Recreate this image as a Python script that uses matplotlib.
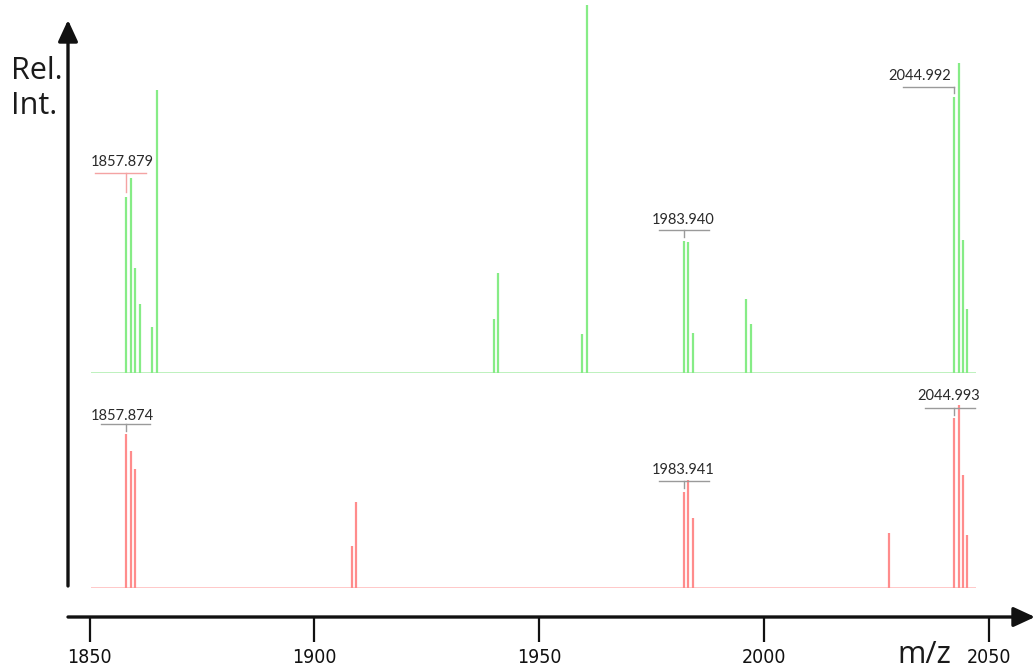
import matplotlib
matplotlib.use('Agg')
import matplotlib.pyplot as plt
from matplotlib.patches import ArrowStyle

# peaks of the upper (green) spectrum: m/z and relative intensity (%)
green_mz = [1857.88, 1858.88, 1859.88, 1860.88, 1863.80, 1864.88,
            1940.90, 1941.95, 1961.00, 1962.00,
            1983.94, 1984.94, 1985.94, 1998.00, 1999.00,
            2044.99, 2046.00, 2047.00, 2048.00]
green_int = [47.8, 53.0, 28.5, 18.8, 12.5, 76.9,
             14.7, 27.2, 10.6, 100.0,
             35.9, 35.6, 10.9, 20.1, 13.3,
             75.0, 84.2, 36.1, 17.4]

# peaks of the lower (red) spectrum
red_mz = [1857.87, 1858.87, 1859.87, 1908.90, 1909.90,
          1983.94, 1984.94, 1985.94, 2030.20,
          2044.99, 2046.00, 2047.00, 2048.00]
red_int = [84.0, 75.0, 64.9, 23.0, 46.8,
           52.5, 59.0, 38.3, 30.1,
           92.9, 100.0, 61.7, 29.0]

# labelled monoisotopic peaks
green_labels = ['1857.879', '1983.940', '2044.992']
red_labels = ['1857.874', '1983.941', '2044.993']

axis_ticks = [1850, 1900, 1950, 2000, 2050]

# label layout: bracket left/right (m/z), bracket height, tick bottom, text x, text y (%)
green_layout = [(1850.8, 1862.3, 54.3, 49.2, 1857.0, 57.4),
                (1978.3, 1989.6, 38.8, 37.0, 1983.7, 41.6),
                (2033.5, 2045.0, 77.8, 76.2, 2037.3, 80.6)]
green_bracket_col = ['#f4a3a3', '#9a9a9a', '#9a9a9a']
red_layout = [(1852.2, 1863.3, 89.5, 85.8, 1857.0, 94.2),
              (1978.3, 1989.6, 58.3, 54.5, 1983.7, 64.6),
              (2038.4, 2049.7, 98.2, 94.5, 2043.8, 105.0)]

W, H = 1035, 668
fig = plt.figure(figsize=(W / 100, H / 100), dpi=100)


def px_box(x0, x1, ytop, ybot):
    return [x0 / W, 1 - ybot / H, (x1 - x0) / W, (ybot - ytop) / H]


def draw_spectrum(ax, mz, inten, line_col, base_col, labels, layout, bcols):
    ax.set_xlim(1850, 2050)
    ax.set_ylim(0, 100)
    ax.axis('off')
    ax.axhline(0, color=base_col, lw=1.3, zorder=1)
    ax.vlines(mz, 0, inten, color=line_col, lw=1.6, zorder=2)
    for lab, lay, bc in zip(labels, layout, bcols):
        x0, x1, by, tb, tx, ty = lay
        pk = float(lab)
        ax.plot([x0, x1], [by, by], color=bc, lw=1.0, clip_on=False, zorder=3)
        ax.plot([pk, pk], [by, tb], color=bc, lw=1.0, clip_on=False, zorder=3)
        ax.text(tx, ty, lab, ha='center', va='center', fontsize=10.5,
                color='#2a2a2a', family=['Lato', 'DejaVu Sans'], clip_on=False)


ax_top = fig.add_axes(px_box(91.4, 976.2, 5, 373))
draw_spectrum(ax_top, green_mz, green_int, '#86ec86', '#b9f0b9',
              green_labels, green_layout, green_bracket_col)

ax_bot = fig.add_axes(px_box(91.4, 976.2, 405, 588))
draw_spectrum(ax_bot, red_mz, red_int, '#ff8c8c', '#ffc4c4',
              red_labels, red_layout, ['#9a9a9a'] * 3)

# m/z axis with arrow
ax_x = fig.add_axes(px_box(68, 1035, 616, 617))
scale = (988.6 - 89.6) / 200.0
ax_x.set_xlim(1850 - (89.6 - 68) / scale, 1850 + (1035 - 89.6) / scale)
ax_x.set_ylim(0, 1)
for s in ax_x.spines.values():
    s.set_visible(False)
ax_x.set_yticks([])
ax_x.set_xticks(axis_ticks)
ax_x.set_xticklabels([str(t) for t in axis_ticks])
ax_x.tick_params(axis='x', direction='out', length=18, width=1.6, color='#111111',
                 pad=4, labelsize=14, labelcolor='#111111')
for lbl in ax_x.get_xticklabels():
    lbl.set_family(['Liberation Sans Narrow', 'DejaVu Sans'])
    lbl.set_fontstretch('condensed')
ax_x.patch.set_visible(False)

arrow = ArrowStyle('-|>', head_length=0.65, head_width=0.3)
ax_x.annotate('', xy=(1.0, 0), xytext=(0.0, 0), xycoords='axes fraction',
              arrowprops=dict(arrowstyle=arrow, mutation_scale=20, lw=2.4,
                              color='#111111', shrinkA=0, shrinkB=0),
              annotation_clip=False)

# intensity axis arrow
fig.add_artist(plt.Annotation('', xy=(68, H - 20), xytext=(68, H - 586),
                              xycoords='figure pixels',
                              arrowprops=dict(arrowstyle=arrow, mutation_scale=20, lw=2.4,
                                              color='#111111', shrinkA=0, shrinkB=0)))

fig.text(11 / W, 1 - 56 / H, 'Rel.\nInt.', ha='left', va='top', fontsize=22,
         color='#1a1a1a', linespacing=1.2, family=['Open Sans', 'DejaVu Sans'])
fig.text(924 / W, 1 - 655 / H, 'm/z', ha='center', va='center', fontsize=22,
         color='#1a1a1a', family=['Open Sans', 'DejaVu Sans'])

fig.savefig('out.png', dpi=100)
